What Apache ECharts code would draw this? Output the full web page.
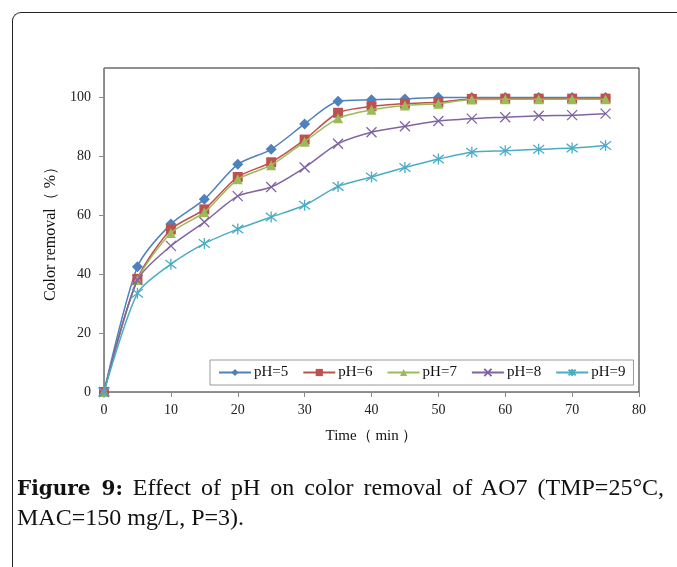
<!DOCTYPE html>
<html>
<head>
<meta charset="utf-8">
<script src="https://cdn.jsdelivr.net/npm/echarts@6/dist/echarts.min.js"></script>
<style>
	html, body { margin: 0; padding: 0; background: #fff; overflow: hidden; }
	#frame {
		position: absolute; left: 12px; top: 12px; width: 720px; height: 620px;
		border-left: 1.5px solid #222; border-top: 1.5px solid #222;
		border-top-left-radius: 9px;
	}
	#chart { position: absolute; left: 0; top: 0; width: 677px; height: 567px; }
	.cap {
		position: absolute; left: 17px; width: 647px;
		font-family: 'Liberation Serif', serif; font-size: 24px; line-height: 30px;
		color: #111; white-space: nowrap;
	}
	#cap1 { top: 472px; text-align: justify; text-align-last: justify; white-space: normal; }
	#cap2 { top: 502px; }
	.cap b { font-family: 'DejaVu Serif', serif; font-size: 20px; }
</style>
</head>
<body>
<div id="frame"></div>
<div id="chart"></div>
<div class="cap" id="cap1"><b>Figure 9:</b> Effect of pH on color removal of AO7 (TMP=25°C,</div>
<div class="cap" id="cap2">MAC=150 mg/L, P=3).</div>
<script>
var times = [0, 5, 10, 15, 20, 25, 30, 35, 40, 45, 50, 55, 60, 65, 70, 75];
var ph5 = [0, 42.5, 57, 65.4, 77.3, 82.4, 91, 98.7, 99.2, 99.5, 100, 100, 100, 100, 100, 100];
var ph6 = [0, 38.4, 55.2, 62, 73, 78, 85.7, 94.8, 97, 97.9, 98.4, 99.5, 99.6, 99.6, 99.6, 99.6];
var ph7 = [0, 38, 54, 61, 72.2, 77, 85, 92.9, 95.8, 97.3, 97.9, 99.3, 99.4, 99.4, 99.4, 99.4];
var ph8 = [0, 38, 49.6, 57.7, 66.5, 69.6, 76.2, 84.3, 88.2, 90.2, 92, 92.8, 93.3, 93.8, 94, 94.5];
var ph9 = [0, 33.5, 43.4, 50.4, 55.3, 59.4, 63.4, 69.8, 73, 76.2, 79.1, 81.4, 81.9, 82.4, 82.8, 83.7];
var names = ['pH=5', 'pH=6', 'pH=7', 'pH=8', 'pH=9'];
var colors = ['#4F81BD', '#C0504D', '#9BBB59', '#8064A2', '#4BACC6'];
var yTicks = [0, 20, 40, 60, 80, 100];

var serif = "'Liberation Serif', 'Times New Roman', serif";
var symbols = [
	['diamond', 11],
	['rect', 10],
	['triangle', 10],
	['path://M0,0L10,10M10,0L0,10', 10],
	['path://M0,0L10,10M10,0L0,10M5,-1.5L5,11.5', 11]
];

function pairs(arr) {
	return arr.map(function(v, i) { return [times[i], v]; });
}

var seriesData = [ph5, ph6, ph7, ph8, ph9];
var series = seriesData.map(function(d, i) {
	return {
		name: names[i],
		type: 'line',
		data: pairs(d),
		smooth: 0.25,
		symbol: symbols[i][0],
		symbolSize: symbols[i][1],
		showAllSymbol: true,
		lineStyle: { color: colors[i], width: 1.5 },
		itemStyle: { color: colors[i], borderColor: colors[i], borderWidth: i >= 3 ? 1.3 : 0 },
		emphasis: { disabled: true },
		z: 2 + i
	};
});

var chart = echarts.init(document.getElementById('chart'));
chart.setOption({
	animation: false,
	backgroundColor: 'transparent',
	grid: {
		left: 104, top: 68, right: 38, bottom: 175,
		show: true, borderColor: '#222', borderWidth: 1
	},
	legend: {
		data: names,
		left: 210, top: 360,
		orient: 'horizontal',
		itemWidth: 32, itemHeight: 9, itemGap: 14,
		padding: [5, 8],
		backgroundColor: '#fff',
		borderColor: '#9a9a9a', borderWidth: 1,
		textStyle: { fontFamily: serif, fontSize: 15, color: '#111', padding: [0, 0, 0, -2] }
	},
	xAxis: {
		type: 'value',
		min: 0, max: 80, interval: 10,
		name: 'Time（ min ）',
		nameLocation: 'middle',
		nameGap: 37,
		nameTextStyle: { fontFamily: serif, fontSize: 15, color: '#111' },
		axisLine: { lineStyle: { color: '#8a8a8a', width: 1 } },
		axisTick: { show: true, inside: false, length: 5, lineStyle: { color: '#8a8a8a' } },
		axisLabel: { fontFamily: serif, fontSize: 14, color: '#222', margin: 11 },
		splitLine: { show: false }
	},
	yAxis: {
		type: 'value',
		min: 0, max: 110, interval: 20,
		name: 'Color removal（ %）',
		nameLocation: 'middle',
		nameGap: 45,
		nameRotate: 90,
		nameTextStyle: { fontFamily: serif, fontSize: 16, color: '#111' },
		axisLine: { show: true, lineStyle: { color: '#8a8a8a', width: 1 } },
		axisTick: { show: true, length: 5, customValues: yTicks, lineStyle: { color: '#8a8a8a' } },
		axisLabel: { fontFamily: serif, fontSize: 14, color: '#222', margin: 13, customValues: yTicks },
		splitLine: { show: false }
	},
	series: series
});
</script>
</body>
</html>
